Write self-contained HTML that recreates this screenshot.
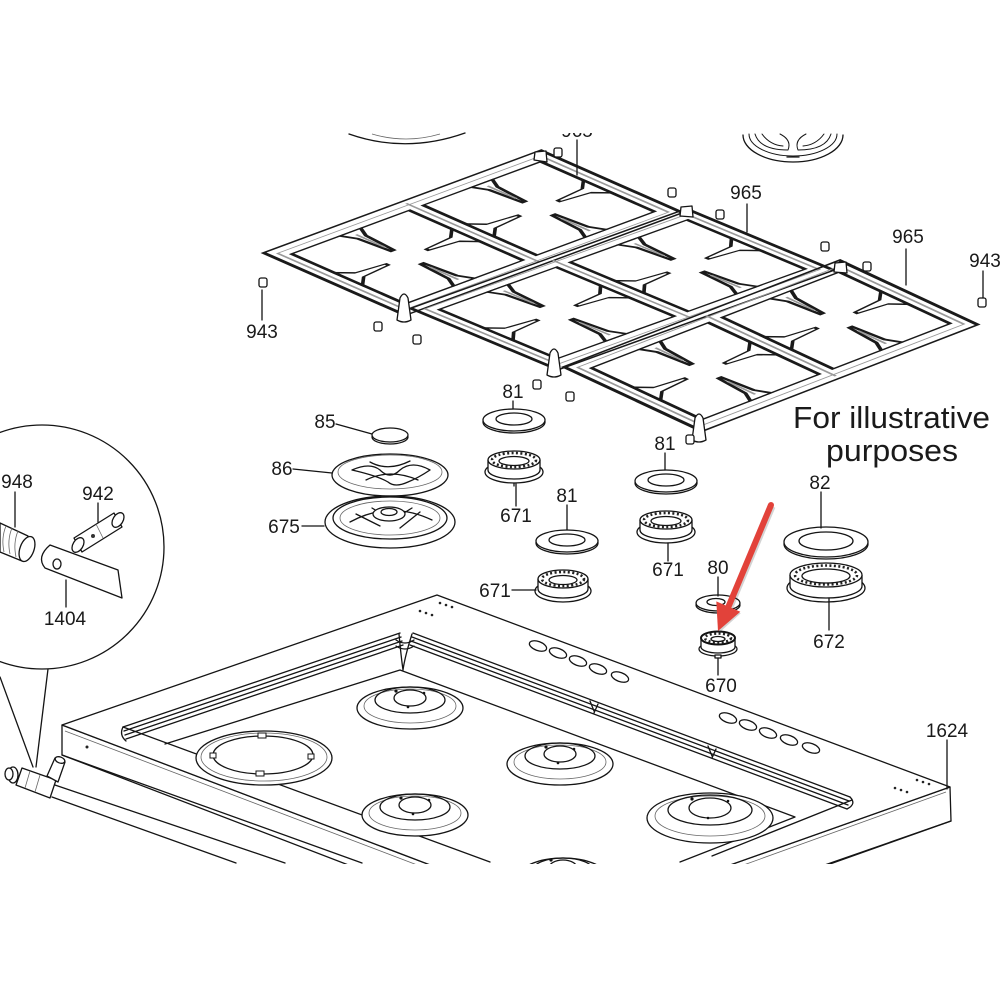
<!DOCTYPE html>
<html><head><meta charset="utf-8"><style>
html,body{margin:0;padding:0;background:#fff;width:1000px;height:1000px;overflow:hidden}
svg{display:block}
text{font-family:"Liberation Sans",Arial,sans-serif;fill:#1a1a1a}
.lb{font-size:19px;text-anchor:middle}
.s{fill:none;stroke:#141414;stroke-width:1.3;stroke-linejoin:round;stroke-linecap:round}
.w{fill:#fff;stroke:#141414;stroke-width:1.3;stroke-linejoin:round}
.t{fill:none;stroke:#666;stroke-width:.8}
.teeth{fill:none;stroke:#222;stroke-width:2.6;stroke-dasharray:2 2.4}
.gq polygon,.gq polyline{vector-effect:non-scaling-stroke;stroke-linejoin:round}
.go{fill:none;stroke:#1a1a1a;stroke-width:1.4}
.gd{fill:none;stroke:#999;stroke-width:.8}
.gi{fill:none;stroke:#1a1a1a;stroke-width:1.3}
.gp{fill:#fff;stroke:#1a1a1a;stroke-width:1.2}
</style></head><body>
<svg width="1000" height="1000" viewBox="0 0 1000 1000" xmlns="http://www.w3.org/2000/svg">
<rect width="1000" height="1000" fill="#fff"/>
<defs>
<clipPath id="cb"><rect x="0" y="0" width="1000" height="864"/></clipPath>
<g id="grate">
<polygon class="go" points="0,0 100,0 100,100 0,100"/>
<polygon class="gd" points="2.5,5 97.5,5 97.5,95 2.5,95"/>
<polygon class="gi" points="5,10 47.5,10 47.5,90 5,90"/>
<polygon class="gi" points="52.5,10 95,10 95,90 52.5,90"/>
<polyline class="gd" points="50,3 50,97"/>
<polygon class="gp" points="22.5,10 30,10 27.75,18 26.75,40 25.75,40 24.75,18"/>
<polygon class="gp" points="22.5,90 30,90 27.75,82 26.75,60 25.75,60 24.75,82"/>
<polygon class="gp" points="5,40 5,60 9,53 19,51 19,49 9,47"/>
<polygon class="gp" points="47.5,40 47.5,60 43.5,53 33.5,51 33.5,49 43.5,47"/>
<polygon class="gp" points="70,10 77.5,10 75.25,18 74.25,40 73.25,40 72.25,18"/>
<polygon class="gp" points="70,90 77.5,90 75.25,82 74.25,60 73.25,60 72.25,82"/>
<polygon class="gp" points="52.5,40 52.5,60 56.5,53 66.5,51 66.5,49 56.5,47"/>
<polygon class="gp" points="95,40 95,60 91,53 81,51 81,49 91,47"/>
<polyline class="gd" points="26.25,14 26.25,34"/>
<polyline class="gd" points="26.25,86 26.25,66"/>
<polyline class="gd" points="73.75,14 73.75,34"/>
<polyline class="gd" points="73.75,86 73.75,66"/>
</g>
</defs>

<!-- top partial parts -->
<path class="s" d="M349,134 Q406,154 465,133" stroke-width="1.6"/>
<path class="t" d="M372,134 Q406,144 440,134"/>
<g class="s">
<path d="M743,135 A50,27 0 0 0 843,135"/>
<path d="M749,134 A44,22 0 0 0 837,134" stroke-width="1"/>
<path d="M755,134 Q760,150 788,150 Q792,140 780,134 M762,134 Q770,145 783,146" stroke-width="1"/>
<path d="M831,134 Q826,150 798,150 Q794,140 806,134 M824,134 Q816,145 803,146" stroke-width="1"/>
<line x1="787" y1="157" x2="799" y2="157"/>
</g>

<!-- grates -->
<g class="gq">
<use href="#grate" transform="matrix(2.77,-1.025,1.42,0.625,263.5,252.75)"/>
<use href="#grate" transform="matrix(2.755,-0.995,1.475,0.615,410.75,308.25)"/>
<use href="#grate" transform="matrix(2.755,-1.065,1.385,0.645,563.75,366.75)"/>
</g>
<!-- corner posts -->
<g class="w" stroke-width="1.1">
<path d="M397,320 L400,298 Q404,290 408,298 L411,320 Q404,324 397,320 Z"/>
<path d="M547,375 L550,353 Q554,345 558,353 L561,375 Q554,379 547,375 Z"/>
<path d="M692,440 L695,418 Q699,410 703,418 L706,440 Q699,444 692,440 Z"/>
<path d="M534,160 L535,152 L546,151 L547,162 Z"/>
<path d="M680,216 L681,207 L692,206 L693,217 Z"/>
<path d="M834,272 L835,263 L846,262 L847,273 Z"/>
</g>

<!-- clips 943 -->
<g class="w" stroke-width="1.1">
<rect x="554" y="148" width="8" height="9" rx="2"/>
<rect x="259" y="278" width="8" height="9" rx="2"/>
<rect x="374" y="322" width="8" height="9" rx="2"/>
<rect x="413" y="335" width="8" height="9" rx="2"/>
<rect x="533" y="380" width="8" height="9" rx="2"/>
<rect x="566" y="392" width="8" height="9" rx="2"/>
<rect x="668" y="188" width="8" height="9" rx="2"/>
<rect x="716" y="210" width="8" height="9" rx="2"/>
<rect x="821" y="242" width="8" height="9" rx="2"/>
<rect x="863" y="262" width="8" height="9" rx="2"/>
<rect x="978" y="298" width="8" height="9" rx="2"/>
<rect x="686" y="435" width="8" height="9" rx="2"/>
</g>

<!-- cooktop -->
<g clip-path="url(#cb)">
<polygon class="w" points="62,725 575,920 575,952 62,755"/>
<polygon class="w" points="950,787 951,821 575,952 575,920"/>
<polygon class="w" points="62,725 437,595 950,787 575,920"/>
<line class="t" x1="65" y1="731" x2="575" y2="925"/>
<line class="t" x1="946" y1="792" x2="580" y2="924"/>
<line class="s" x1="62" y1="755" x2="362" y2="863"/>
<line class="s" x1="951" y1="821" x2="830" y2="864"/>
<circle cx="87" cy="747" r="1.5" fill="#222"/>
<polyline class="s" points="123,727 490,862"/>
<polyline class="s" points="165,744 400,670 795,817 680,862"/>
<polyline class="s" points="852,800 712,856"/>
<g class="s" stroke-width="1">
<line x1="123" y1="727" x2="400" y2="633"/>
<line x1="124" y1="731" x2="401" y2="637"/>
<line x1="125" y1="735" x2="402" y2="641"/>
<line x1="126" y1="739" x2="403" y2="645"/>
<path d="M123,727 Q119,735 126,741"/>
<line x1="413" y1="633" x2="850" y2="797"/>
<line x1="412" y1="637" x2="849" y2="801"/>
<line x1="411" y1="641" x2="848" y2="805"/>
<line x1="410" y1="645" x2="847" y2="809"/>
<path d="M850,797 Q857,804 847,809"/>
<path d="M399,634 Q401,656 403,670 Q405,656 412,634"/>
<path d="M396,640 Q405,646 414,640 M396,646 Q405,652 414,646"/>
<path d="M590,701 l4,10 M598,704 l-4,9 M708,746 l4,10 M716,749 l-4,9"/>
</g>
<g class="s" stroke-width="1.2">
<ellipse cx="538" cy="646" rx="9" ry="4.5" transform="rotate(20 538 646)"/>
<ellipse cx="558" cy="653" rx="9" ry="4.5" transform="rotate(20 558 653)"/>
<ellipse cx="578" cy="661" rx="9" ry="4.5" transform="rotate(20 578 661)"/>
<ellipse cx="598" cy="669" rx="9" ry="4.5" transform="rotate(20 598 669)"/>
<ellipse cx="620" cy="677" rx="9" ry="4.5" transform="rotate(20 620 677)"/>
<ellipse cx="728" cy="718" rx="9" ry="4.5" transform="rotate(20 728 718)"/>
<ellipse cx="748" cy="725" rx="9" ry="4.5" transform="rotate(20 748 725)"/>
<ellipse cx="768" cy="733" rx="9" ry="4.5" transform="rotate(20 768 733)"/>
<ellipse cx="789" cy="740" rx="9" ry="4.5" transform="rotate(20 789 740)"/>
<ellipse cx="811" cy="748" rx="9" ry="4.5" transform="rotate(20 811 748)"/>
</g>
<g fill="#222">
<circle cx="440" cy="603" r="1.3"/><circle cx="446" cy="605" r="1.3"/><circle cx="452" cy="607" r="1.3"/>
<circle cx="420" cy="611" r="1.3"/><circle cx="426" cy="613" r="1.3"/><circle cx="432" cy="615" r="1.3"/>
<circle cx="917" cy="780" r="1.3"/><circle cx="923" cy="782" r="1.3"/><circle cx="929" cy="784" r="1.3"/>
<circle cx="895" cy="788" r="1.3"/><circle cx="901" cy="790" r="1.3"/><circle cx="907" cy="792" r="1.3"/>
</g>
<g>
<ellipse cx="264" cy="758" rx="68" ry="27" class="w" stroke="#555" stroke-width="1"/>
<ellipse cx="264" cy="757" rx="63" ry="24" class="t"/>
<ellipse cx="263" cy="755" rx="50" ry="19" class="s" stroke-width="1.6"/>
<g fill="#fff" stroke="#141414" stroke-width="1">
<rect x="258" y="733" width="8" height="5"/><rect x="256" y="771" width="8" height="5"/>
<rect x="210" y="753" width="6" height="5"/><rect x="308" y="754" width="6" height="5"/>
</g>
</g>
<g>
<g transform="translate(410,705)">
<ellipse cx="0" cy="3" rx="53" ry="21" class="w" stroke="#666" stroke-width="1"/>
<ellipse cx="0" cy="1" rx="46" ry="17" class="t"/>
<ellipse cx="0" cy="-5" rx="35" ry="13" class="s" stroke-width="1"/>
<ellipse cx="0" cy="-7" rx="16" ry="8" class="s" stroke-width="1.7"/>
<circle cx="-14" cy="-14" r="1.6" fill="#111"/><circle cx="14" cy="-12" r="1.3" fill="#111"/><circle cx="-2" cy="2" r="1.3" fill="#111"/>
</g>
<g transform="translate(415,812)">
<ellipse cx="0" cy="3" rx="53" ry="21" class="w" stroke="#666" stroke-width="1"/>
<ellipse cx="0" cy="1" rx="46" ry="17" class="t"/>
<ellipse cx="0" cy="-5" rx="35" ry="13" class="s" stroke-width="1"/>
<ellipse cx="0" cy="-7" rx="16" ry="8" class="s" stroke-width="1.7"/>
<circle cx="-14" cy="-14" r="1.6" fill="#111"/><circle cx="14" cy="-12" r="1.3" fill="#111"/><circle cx="-2" cy="2" r="1.3" fill="#111"/>
</g>
<g transform="translate(560,761)">
<ellipse cx="0" cy="3" rx="53" ry="21" class="w" stroke="#666" stroke-width="1"/>
<ellipse cx="0" cy="1" rx="46" ry="17" class="t"/>
<ellipse cx="0" cy="-5" rx="35" ry="13" class="s" stroke-width="1"/>
<ellipse cx="0" cy="-7" rx="16" ry="8" class="s" stroke-width="1.7"/>
<circle cx="-14" cy="-14" r="1.6" fill="#111"/><circle cx="14" cy="-12" r="1.3" fill="#111"/><circle cx="-2" cy="2" r="1.3" fill="#111"/>
</g>
<g transform="translate(710,815)">
<ellipse cx="0" cy="3" rx="63" ry="25" class="w" stroke="#666" stroke-width="1"/>
<ellipse cx="0" cy="1" rx="55" ry="20" class="t"/>
<ellipse cx="0" cy="-5" rx="42" ry="15" class="s" stroke-width="1"/>
<ellipse cx="0" cy="-7" rx="21" ry="10" class="s" stroke-width="1.7"/>
<circle cx="-18" cy="-16" r="1.6" fill="#111"/><circle cx="18" cy="-14" r="1.3" fill="#111"/><circle cx="-2" cy="3" r="1.3" fill="#111"/>
</g>
<g transform="translate(563,875)">
<ellipse cx="0" cy="3" rx="45" ry="20" class="w" stroke="#666" stroke-width="1"/>
<ellipse cx="0" cy="-5" rx="30" ry="12" class="s" stroke-width="1"/>
<ellipse cx="0" cy="-7" rx="14" ry="8" class="s" stroke-width="1.7"/>
<circle cx="-12" cy="-15" r="1.6" fill="#111"/>
</g>
</g>
<line class="s" x1="49" y1="783" x2="285" y2="863"/>
<line class="s" x1="52" y1="797" x2="236" y2="863"/>
<polygon class="w" points="22,768 56,780 50,798 16,785"/>
<line class="t" x1="30" y1="771" x2="25" y2="788"/>
<line class="t" x1="40" y1="775" x2="35" y2="792"/>
<polygon class="w" points="47,776 55,758 65,762 58,782"/>
<ellipse cx="60" cy="760" rx="5" ry="3" class="w" transform="rotate(20 60 760)"/>
<ellipse cx="13" cy="775" rx="5" ry="8" class="w"/>
<ellipse cx="9" cy="774" rx="4" ry="6" class="w"/>
</g>

<!-- detail circle -->
<circle cx="42" cy="547" r="122" class="s" stroke-width="1.5"/>
<line class="s" x1="0" y1="677" x2="33" y2="767"/>
<line class="s" x1="48" y1="669" x2="36" y2="767"/>
<path class="w" d="M0,523 L28,536 L22,561 L0,552 Z" stroke-width="1.3"/>
<ellipse cx="27" cy="549" rx="7" ry="13" class="w" transform="rotate(20 27 549)" stroke-width="1.6"/>
<path class="t" d="M6,526 q-5,12 -2,26 M12,528 q-5,12 -2,26 M18,531 q-5,12 -2,26"/>
<path class="w" d="M74,538 L114,513 L122,527 L82,552 Z"/>
<ellipse cx="118" cy="520" rx="5" ry="8" class="w" transform="rotate(32 118 520)"/>
<ellipse cx="78" cy="545" rx="5" ry="8" class="w" transform="rotate(32 78 545)" stroke-width="1.6"/>
<line class="t" x1="96" y1="524" x2="103" y2="538"/>
<circle cx="93" cy="536" r="2" fill="#333"/>
<path class="w" d="M50,545 L118,570 L122,598 L45,568 Q36,557 50,545 Z"/>
<ellipse cx="57" cy="564" rx="4" ry="5" class="s"/>

<!-- burner parts -->
<ellipse cx="390" cy="437" rx="18" ry="7" class="w"/>
<ellipse cx="390" cy="435" rx="18" ry="7" class="w"/>
<ellipse cx="390" cy="475" rx="58" ry="21" class="w"/>
<ellipse cx="390" cy="472" rx="52" ry="17" class="t"/>
<path class="s" stroke-width="1" d="M352,470 Q370,462 380,470 Q390,480 400,470 Q412,460 430,470 Q418,478 408,482 Q395,488 388,482 Q378,476 352,470 Z"/>
<path class="s" stroke-width="1" d="M370,462 Q388,472 410,461 M366,480 Q390,468 418,480"/>
<ellipse cx="390" cy="522" rx="65" ry="26" class="w"/>
<ellipse cx="390" cy="518" rx="57" ry="21" class="s" stroke-width="1.1"/>
<ellipse cx="390" cy="518" rx="50" ry="17" class="t"/>
<path class="s" stroke-width="1" d="M350,522 Q390,500 432,520 M356,514 L380,526 M420,512 L400,528 M372,508 L388,518 M412,508 L396,518"/>
<ellipse cx="389" cy="514" rx="16" ry="7" class="w"/>
<ellipse cx="389" cy="512" rx="8" ry="3.5" class="s"/>
<ellipse cx="514" cy="422" rx="31" ry="11" class="w"/>
<ellipse cx="514" cy="420" rx="31" ry="11" class="w"/>
<ellipse cx="514" cy="419" rx="18" ry="6" class="s"/>
<g transform="translate(514,466)">
<ellipse cx="0" cy="6" rx="29" ry="11" class="w"/>
<path class="w" d="M-26,-6 L-26,4 A26,9 0 0 0 26,4 L26,-6"/>
<ellipse cx="0" cy="-6" rx="26" ry="9" class="w"/>
<ellipse cx="0" cy="-6" rx="22" ry="7" class="teeth"/>
<ellipse cx="0" cy="-5" rx="15" ry="4.5" class="s" stroke-width="1"/>
<line class="s" x1="0" y1="17" x2="0" y2="20"/>
</g>
<ellipse cx="567" cy="543" rx="31" ry="11" class="w"/>
<ellipse cx="567" cy="541" rx="31" ry="11" class="w"/>
<ellipse cx="567" cy="540" rx="18" ry="6" class="s"/>
<g transform="translate(563,585)">
<ellipse cx="0" cy="6" rx="28" ry="11" class="w"/>
<path class="w" d="M-25,-6 L-25,4 A25,9 0 0 0 25,4 L25,-6"/>
<ellipse cx="0" cy="-6" rx="25" ry="9" class="w"/>
<ellipse cx="0" cy="-6" rx="21" ry="7" class="teeth"/>
<ellipse cx="0" cy="-5" rx="14" ry="4.5" class="s" stroke-width="1"/>
</g>
<ellipse cx="666" cy="483" rx="31" ry="11" class="w"/>
<ellipse cx="666" cy="481" rx="31" ry="11" class="w"/>
<ellipse cx="666" cy="480" rx="18" ry="6" class="s"/>
<g transform="translate(666,526)">
<ellipse cx="0" cy="6" rx="29" ry="11" class="w"/>
<path class="w" d="M-26,-6 L-26,4 A26,9 0 0 0 26,4 L26,-6"/>
<ellipse cx="0" cy="-6" rx="26" ry="9" class="w"/>
<ellipse cx="0" cy="-6" rx="22" ry="7" class="teeth"/>
<ellipse cx="0" cy="-5" rx="15" ry="4.5" class="s" stroke-width="1"/>
</g>
<ellipse cx="718" cy="605" rx="22" ry="8" class="w"/>
<ellipse cx="718" cy="603" rx="22" ry="8" class="w"/>
<ellipse cx="716" cy="602" rx="9" ry="3.5" class="s"/>
<g transform="translate(718,643)">
<ellipse cx="0" cy="6" rx="19" ry="7" class="w"/>
<path class="w" d="M-17,-5 L-17,4 A17,6 0 0 0 17,4 L17,-5"/>
<ellipse cx="0" cy="-5" rx="17" ry="6.5" fill="#fff" stroke="#111" stroke-width="2"/>
<ellipse cx="0" cy="-5" rx="13" ry="4.5" class="teeth" stroke-width="3"/>
<ellipse cx="0" cy="-4" rx="7" ry="2.5" class="s"/>
<rect x="-3" y="12" width="6" height="3" class="w" stroke-width="1"/>
</g>
<ellipse cx="826" cy="544" rx="42" ry="15" class="w"/>
<ellipse cx="826" cy="542" rx="42" ry="15" class="w"/>
<ellipse cx="826" cy="541" rx="27" ry="9" class="s"/>
<g transform="translate(826,582)">
<ellipse cx="0" cy="6" rx="39" ry="14" class="w"/>
<path class="w" d="M-36,-7 L-36,4 A36,12 0 0 0 36,4 L36,-7"/>
<ellipse cx="0" cy="-7" rx="36" ry="12" class="w"/>
<ellipse cx="0" cy="-7" rx="31" ry="9.5" class="teeth"/>
<ellipse cx="0" cy="-6" rx="24" ry="7" class="s" stroke-width="1"/>
</g>

<!-- leaders -->
<g class="s" stroke-width="1.2">
<line x1="262" y1="290" x2="262" y2="320"/>
<line x1="983" y1="271" x2="983" y2="298"/>
<line x1="747" y1="204" x2="747" y2="232"/>
<line x1="906" y1="249" x2="906" y2="285"/>
<line x1="577" y1="140" x2="577" y2="175"/>
<line x1="513" y1="401" x2="513" y2="409"/>
<line x1="516" y1="484" x2="516" y2="506"/>
<line x1="567" y1="505" x2="567" y2="530"/>
<line x1="512" y1="590" x2="536" y2="590"/>
<line x1="336" y1="424" x2="372" y2="434"/>
<line x1="293" y1="469" x2="332" y2="473"/>
<line x1="302" y1="526" x2="324" y2="526"/>
<line x1="665" y1="453" x2="665" y2="470"/>
<line x1="668" y1="543" x2="668" y2="561"/>
<line x1="718" y1="577" x2="718" y2="596"/>
<line x1="718" y1="658" x2="718" y2="675"/>
<line x1="821" y1="492" x2="821" y2="528"/>
<line x1="829" y1="598" x2="829" y2="630"/>
<line x1="947" y1="740" x2="947" y2="789"/>
<line x1="15" y1="492" x2="15" y2="527"/>
<line x1="98" y1="503" x2="98" y2="522"/>
<line x1="66" y1="580" x2="66" y2="607"/>
</g>

<!-- labels -->
<g>
<text class="lb" x="262" y="338">943</text>
<text class="lb" x="985" y="267">943</text>
<text class="lb" x="746" y="199">965</text>
<text class="lb" x="908" y="243">965</text>
<text class="lb" x="577" y="137">965</text>
<text class="lb" x="513" y="398">81</text>
<text class="lb" x="516" y="522">671</text>
<text class="lb" x="567" y="502">81</text>
<text class="lb" x="495" y="597">671</text>
<text class="lb" x="325" y="428">85</text>
<text class="lb" x="282" y="475">86</text>
<text class="lb" x="284" y="533">675</text>
<text class="lb" x="665" y="450">81</text>
<text class="lb" x="668" y="576">671</text>
<text class="lb" x="718" y="574">80</text>
<text class="lb" x="721" y="692">670</text>
<text class="lb" x="820" y="489">82</text>
<text class="lb" x="829" y="648">672</text>
<text class="lb" x="947" y="737">1624</text>
<text class="lb" x="17" y="488">948</text>
<text class="lb" x="98" y="500">942</text>
<text class="lb" x="65" y="625">1404</text>
</g>
<rect x="540" y="100" width="80" height="33" fill="#fff"/>

<text x="793" y="428" font-size="31" textLength="197" lengthAdjust="spacingAndGlyphs" fill="#222">For illustrative</text>
<text x="826" y="461" font-size="31" textLength="132" lengthAdjust="spacingAndGlyphs" fill="#222">purposes</text>

<!-- red arrow -->
<g transform="translate(1.5,1.5)" opacity="0.25">
<polygon points="773.8,506.2 768.2,503.8 725.5,605.9 731.1,608.3" fill="#555"/>
<polygon points="718,631 717.3,602.4 739.3,611.8" fill="#555"/>
</g>
<polygon points="773.8,506.2 768.2,503.8 725.5,605.9 731.1,608.3" fill="#e2423a"/>
<circle cx="771" cy="505" r="3" fill="#e2423a"/>
<polygon points="718,631 716.3,601.4 740.3,611.8" fill="#e2423a"/>
</svg>
</body></html>
